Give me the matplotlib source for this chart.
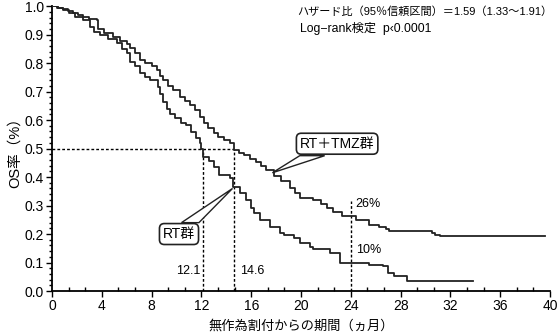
import matplotlib.pyplot as plt
from matplotlib.patches import Polygon
from matplotlib.ticker import MultipleLocator

plt.rcParams['font.family'] = ['Liberation Sans', 'Noto Sans CJK JP']

# Kaplan-Meier step curves (months, survival)
tmz_t = [0, 0.5, 0.9, 1.3, 1.7, 2.1, 2.5, 3.0, 3.6, 3.7, 4.2, 4.9, 5.5, 6.0, 6.3, 6.7,
         7.07, 7.5, 8.0, 8.4, 8.7, 8.94, 9.3, 9.74, 10.3, 10.7, 11.1, 11.5, 11.9, 12.2,
         12.55, 13.0, 13.36, 13.8, 14.3, 14.6, 15.0, 15.4, 15.9, 16.4, 16.8, 17.2, 17.8,
         18.4, 19.1, 19.5, 19.9, 21.0, 21.6, 22.1, 22.6, 23.3, 24.4, 25.5, 26.3, 26.8,
         27.1, 30.5, 30.8, 31.2, 39.6]
tmz_s = [1.0, 0.995, 0.99, 0.982, 0.975, 0.968, 0.962, 0.955, 0.95, 0.918, 0.905, 0.89,
         0.876, 0.866, 0.852, 0.835, 0.81, 0.80, 0.79, 0.775, 0.755, 0.74, 0.72, 0.705,
         0.682, 0.668, 0.653, 0.635, 0.61, 0.59, 0.571, 0.555, 0.541, 0.53, 0.52, 0.495,
         0.485, 0.477, 0.465, 0.454, 0.44, 0.425, 0.405, 0.385, 0.36, 0.345, 0.327, 0.318,
         0.305, 0.29, 0.278, 0.265, 0.25, 0.233, 0.226, 0.218, 0.212, 0.205, 0.198, 0.193,
         0.193]

rt_t = [0, 0.4, 0.9, 1.4, 1.85, 2.5, 3.05, 3.4, 3.86, 4.5, 5.2, 5.6, 6.0, 6.3, 6.67,
        7.07, 7.5, 7.87, 8.54, 8.7, 8.94, 9.2, 9.48, 9.88, 10.4, 10.8, 11.2, 11.6, 11.9,
        12.0, 12.15, 12.6, 13.0, 13.4, 14.3, 14.56, 15.1, 15.6, 16.0, 16.2, 16.7, 17.5,
        18.3, 18.6, 19.4, 19.9, 20.7, 21.0, 22.3, 23.1, 24.5, 25.5, 26.6, 27.0, 27.5,
        28.5, 33.8]
rt_s = [1.0, 0.995, 0.986, 0.975, 0.962, 0.951, 0.927, 0.91, 0.898, 0.885, 0.87, 0.85,
        0.834, 0.805, 0.79, 0.764, 0.752, 0.74, 0.717, 0.69, 0.664, 0.64, 0.623, 0.606,
        0.59, 0.582, 0.559, 0.538, 0.518, 0.50, 0.471, 0.455, 0.436, 0.407, 0.395, 0.366,
        0.345, 0.319, 0.29, 0.273, 0.249, 0.226, 0.202, 0.196, 0.185, 0.167, 0.155,
        0.146, 0.132, 0.10, 0.097, 0.092, 0.088, 0.062, 0.053, 0.036, 0.036]

median_rt = 12.1
median_tmz = 14.6
t24 = 24
s24_tmz = 0.26
s24_rt = 0.10

fig = plt.figure(figsize=(5.58, 3.34), dpi=100)
ax = fig.add_axes([0.0932, 0.1287, 0.8925, 0.853])

col = '#222222'
ax.step(tmz_t, tmz_s, where='post', color=col, lw=1.3, zorder=3)
ax.step(rt_t, rt_s, where='post', color=col, lw=1.3, zorder=3)

# median and 24-month guides
dash = dict(color='black', lw=1.0, ls=(0, (2, 1.5)), zorder=2)
ax.plot([0, median_tmz], [0.5, 0.5], **dash)
ax.plot([median_rt, median_rt], [0, 0.5], **dash)
ax.plot([median_tmz, median_tmz], [0, 0.5], **dash)
ax.plot([t24, t24], [0, 0.315], **dash)

ax.text(median_rt - 0.2, 0.07, str(median_rt), ha='right', va='center', fontsize=9)
ax.text(median_tmz + 0.5, 0.07, str(median_tmz), ha='left', va='center', fontsize=9)
ax.text(t24 + 0.4, 0.305, f'{int(s24_tmz * 100)}%', ha='left', va='center', fontsize=9)
ax.text(t24 + 0.4, 0.145, f'{int(s24_rt * 100)}%', ha='left', va='center', fontsize=9)

# callouts with wedge pointers
box = dict(boxstyle='round,pad=0.25,rounding_size=0.35', fc='white', ec=col, lw=1.2)
ax.add_patch(Polygon([(19.9, 0.475), (21.9, 0.475), (17.7, 0.415)], closed=True,
                     fc='white', ec=col, lw=1.0, zorder=4))
ax.text(22.9, 0.517, 'RT＋TMZ群', ha='center', va='center', fontsize=10, bbox=box, zorder=5)
ax.add_patch(Polygon([(10.4, 0.24), (11.8, 0.24), (14.5, 0.36)], closed=True,
                     fc='white', ec=col, lw=1.0, zorder=4))
ax.text(10.2, 0.20, 'RT群', ha='center', va='center', fontsize=10, bbox=box, zorder=5)

fig.text(0.533, 0.966, 'ハザード比（95％信頼区間）＝1.59（1.33〜1.91）',
         ha='left', va='center', fontsize=8)
fig.text(0.538, 0.916, 'Log−rank検定  p‹0.0001', ha='left', va='center', fontsize=8.8)

ax.set_xlim(0, 40)
ax.set_ylim(0, 1.0)
ax.xaxis.set_major_locator(MultipleLocator(4))
ax.xaxis.set_minor_locator(MultipleLocator(4 / 3))
ax.yaxis.set_major_locator(MultipleLocator(0.1))
ax.yaxis.set_minor_locator(MultipleLocator(0.02))
ax.yaxis.set_major_formatter(plt.FormatStrFormatter('%.1f'))
ax.tick_params(axis='both', which='major', direction='out', length=4, width=1.0,
               labelsize=10, colors='black', pad=2)
ax.tick_params(axis='x', which='minor', direction='in', length=3, width=1.0)
ax.tick_params(axis='y', which='minor', direction='out', length=2.5, width=1.0)
for s in ['top', 'right']:
    ax.spines[s].set_visible(False)
for s in ['left', 'bottom']:
    ax.spines[s].set_linewidth(1.3)

ax.set_ylabel('OS率（%）', fontsize=10.5, labelpad=2)
ax.set_xlabel('無作為割付からの期間（ヵ月）', fontsize=9.5, labelpad=5)

fig.savefig('out.png', dpi=100)
